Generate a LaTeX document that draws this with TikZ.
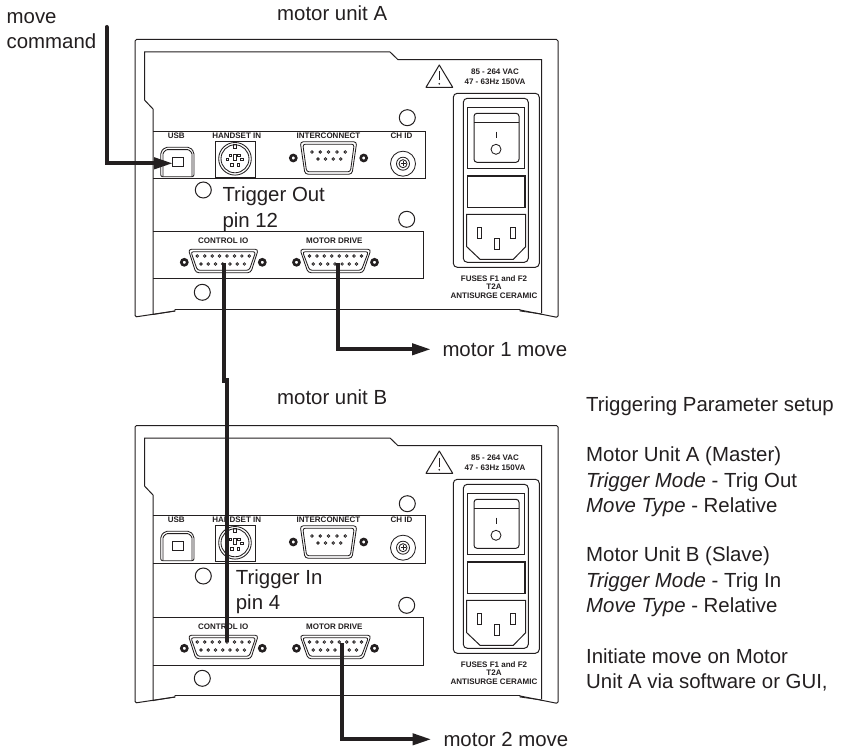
\documentclass[tikz,border=0pt]{standalone}
\usepackage{fontspec}
\setmainfont{Liberation Sans}
\usetikzlibrary{arrows.meta}
\definecolor{ink}{HTML}{231F20}
\tikzset{
  body/.style={line width=1pt,draw=ink},
  thin part/.style={line width=0.85pt,draw=ink},
  pin part/.style={line width=0.8pt,draw=ink},
  big text/.style={anchor=base west,inner sep=0pt,text=ink,font=\fontsize{20.4}{24}\selectfont},
  tiny text/.style={inner sep=0pt,text=ink,font=\fontsize{8}{9}\selectfont\bfseries},
  wire/.style={line width=4pt,draw=ink,line join=miter},
  arrow wire/.style={wire,-{Triangle[length=19pt,width=11pt]}},
}
\newcommand{\dsubshell}[4]{% cx, cy, half top, half bottom (half height in \dsubh)
  \begin{scope}[shift={(#1,#2)}]
    \draw[thin part,rounded corners=3pt] (-#3,-\dsubh) -- (#3,-\dsubh) -- (#4,\dsubh) -- (-#4,\dsubh) -- cycle;
    \draw[thin part,rounded corners=2.5pt] (-#3+2.6,-\dsubh+2.4) -- (#3-2.6,-\dsubh+2.4) -- (#4-1.6,\dsubh-2.4) -- (-#4+1.6,\dsubh-2.4) -- cycle;
    \draw[ink,line width=2.6pt] (-\dsubs,\dsubsy) circle[radius=3pt] (\dsubs,\dsubsy) circle[radius=3pt];
  \end{scope}}
\newcommand{\drawunit}[3]{%
\begin{scope}[shift={(0,#2)}]
  % housing
  \draw[body,rounded corners=1.5pt] (175,311) -- (135,317) -- (135,39.5) -- (558,39.5) -- (558,317.5) -- (520,310);
  \draw[body] (153,315) -- (153,109) -- (144.5,100) -- (144.5,52) -- (390,52) -- (398,59.7) -- (541.7,59.7) -- (541.7,313);
  \draw[thin part] (153,314.5) -- (175,311) -- (175,309.5) -- (520,309.5) -- (520,311) -- (541.7,314);
  % fixing holes
  \draw[body] (407.3,117.7) circle[radius=8pt] (203.3,190) circle[radius=8pt] (406.7,219.3) circle[radius=8pt] (202.3,292.3) circle[radius=8pt];
  % lower panel
  \draw[body] (153,231.7) -- (423.7,231.7) -- (423.7,279) -- (153,279);
  \node[tiny text] (#1ctllabel) at (223.3,240.3) {CONTROL IO};
  \node[tiny text] (#1drvlabel) at (334.3,240.3) {MOTOR DRIVE};
  \def\dsubh{11.7}\def\dsubs{39}\def\dsubsy{1.3}
  \dsubshell{223.3}{261}{35}{27.5}
  \dsubshell{335.5}{261}{35.5}{27.5}
  \foreach \cx in {223.3,335.5}{
    \foreach \i in {0,...,7} \draw[pin part] (\cx-26+\i*7.43,256) circle[radius=1.3pt];
    \foreach \i in {0,...,6} \draw[pin part] (\cx-22.3+\i*7.23,264) circle[radius=1.3pt];
  }
  % warning sign and rating
  \draw[body,line join=round] (439.3,65) -- (452.7,87.3) -- (426,87.3) -- cycle;
  \draw[ink,line width=1.1pt] (439.3,71.5) -- (439.3,80.5);
  \fill[ink] (439.3,83.8) circle[radius=0.9pt];
  \node[tiny text] (#1vac) at (495,71.3) {85 - 264 VAC};
  \node[tiny text] (#1hz) at (495,81.7) {47 - 63Hz 150VA};
  % power entry module
  \draw[gray,line width=1.2pt] (539.8,100) -- (539.8,262);
  \draw[body,rounded corners=4pt] (453.3,93.3) rectangle (539.3,267.3);
  \draw[body,rounded corners=4pt] (463.3,98.3) rectangle (528.3,262.3);
  \draw[line width=1.2pt,draw=ink] (467.3,107.7) rectangle (524.3,168.3);
  \draw[body,rounded corners=3pt] (474,113.3) rectangle (519,162.3);
  \draw[thin part] (474,122.3) -- (519,122.3);
  \draw[thin part] (496,131.7) -- (496,138.3);
  \draw[thin part] (496,149.3) circle[radius=5pt];
  \draw[line width=1.1pt,draw=ink] (467.3,176) rectangle (525,207.7);
  \draw[body] (466.7,214.3) -- (525.7,214.3) -- (525.7,246.7) -- (513.3,259.3) -- (480,259.3) -- (466.7,246.7) -- cycle;
  \draw[thin part] (477,227.3) rectangle (481.7,238.3) (510.7,227.3) rectangle (515.3,238.3) (494,238.3) rectangle (499,249.3);
  \node[tiny text] (#1fa) at (494,278.3) {FUSES F1 and F2};
  \node[tiny text] (#1fb) at (494,287) {T2A};
  \node[tiny text] (#1fc) at (494,296) {ANTISURGE CERAMIC};
  % upper panel
  \begin{scope}[shift={(0,#3)}]
    \draw[body] (153,131.7) -- (425.7,131.7) -- (425.7,179) -- (153,179);
    \node[tiny text] (#1usblabel) at (176.3,136) {USB};
    \node[tiny text] (#1hslabel) at (236.7,136) {HANDSET IN};
    \node[tiny text] (#1iclabel) at (328.5,136) {INTERCONNECT};
    \node[tiny text] (#1chlabel) at (401.5,136) {CH ID};
    \draw[thin part,rounded corners=2pt] (160.7,176.7) -- (160.7,152) -- (165,147.3) -- (190,147.3) -- (194,152) -- (194,176.7) -- cycle;
    \draw[thin part,rounded corners=1pt] (163,176.7) -- (163,153) -- (166.5,149.6) -- (188.5,149.6) -- (192,153) -- (192,176.7);
    \draw[thin part] (172.7,157.7) rectangle (183.3,166.7);
    \draw[body] (215,141.7) rectangle (255,177.3);
    \draw[thin part] (235,158.8) circle[radius=16.3pt] (235,158.8) circle[radius=14pt];
    \draw[pin part] (233.8,144.8) rectangle (236.2,148);
    \foreach \px/\py in {227.3/159.3,230.5/155.3,241.7/159.3,239/155.3,231.7/165,238.3/165}
      \draw[pin part] (\px-1.2,\py-1.2) rectangle (\px+1.2,\py+1.2);
    \draw[pin part] (233.6,154) rectangle (236,160);
    \def\dsubh{16.2}\def\dsubs{35.2}\def\dsubsy{0}
    \dsubshell{328.5}{158}{28.3}{23.5}
    \foreach \i in {0,...,4} \draw[pin part] (311.9+\i*8.35,152) circle[radius=1.3pt];
    \foreach \i in {0,...,3} \draw[pin part] (318+\i*7.6,159) circle[radius=1.3pt];
    \draw[thin part] (403,163.7) circle[radius=12.5pt] (403,163.7) circle[radius=6.5pt];
    \draw[thin part] (403,163.7) circle[radius=4pt];
    \draw[thin part] (400.5,163.7) -- (405.5,163.7) (403,161.2) -- (403,166.2);
  \end{scope}
\end{scope}}
\begin{document}
\begin{tikzpicture}[x=1pt,y=-1pt]
  \useasboundingbox (0,0) rectangle (841,751);
  \fill[white] (0,0) rectangle (841,751);
  \drawunit{a}{0}{0}
  \drawunit{b}{386}{-2}
  % labels
  \node[big text] (lmove) at (6.5,23.5) {move};
  \node[big text] (lcmd) at (6.5,49) {command};
  \node[big text] (lunita) at (277,20.5) {motor unit A};
  \node[big text] (lunitb) at (277,404) {motor unit B};
  \node[big text] (ltout) at (222.3,201.7) {Trigger Out};
  \node[big text] (lp12) at (222.3,227.5) {pin 12};
  \node[big text] (ltin) at (235.7,584.3) {Trigger In};
  \node[big text] (lp4) at (235.7,609.3) {pin 4};
  \node[big text] (lm1) at (442.3,356.7) {motor 1 move};
  \node[big text] (lm2) at (443.3,746.5) {motor 2 move};
  \node[big text] (r1) at (586,411.7) {Triggering Parameter setup};
  \node[big text] (r2) at (586,461.7) {Motor Unit A (Master)};
  \node[big text] (r3) at (586,487) {\textit{Trigger Mode} - Trig Out};
  \node[big text] (r4) at (586,512.3) {\textit{Move Type} - Relative};
  \node[big text] (r5) at (586,561.7) {Motor Unit B (Slave)};
  \node[big text] (r6) at (586,587) {\textit{Trigger Mode} - Trig In};
  \node[big text] (r7) at (586,612.3) {\textit{Move Type} - Relative};
  \node[big text] (r8) at (586,663.3) {Initiate move on Motor};
  \node[big text] (r9) at (586,688.3) {Unit A via software or GUI,};
  % connector end points
  \coordinate (cmdstart) at (106.5,27);
  \coordinate (usbport) at (173,163.3);
  \coordinate (ctlpina) at (224,263);
  \coordinate (ctlpinb) at (226.7,641.7);
  \coordinate (jogup) at (224,381);
  \coordinate (jogdn) at (226.7,378);
  \coordinate (drvpina) at (337.7,263);
  \coordinate (drvpinb) at (341.7,643);
  \coordinate (m1end) at (431,349.3);
  \coordinate (m2end) at (431.5,739.3);
  % connectors
  \draw[arrow wire,line cap=round] (cmdstart) |- (usbport);
  \draw[wire] (ctlpina) -- (jogup) -- ++(1.5,0);
  \draw[wire] (ctlpinb) -- (jogdn);
  \draw[arrow wire] (drvpina) |- (m1end);
  \draw[arrow wire] (drvpinb) |- (m2end);
\end{tikzpicture}
\end{document}
